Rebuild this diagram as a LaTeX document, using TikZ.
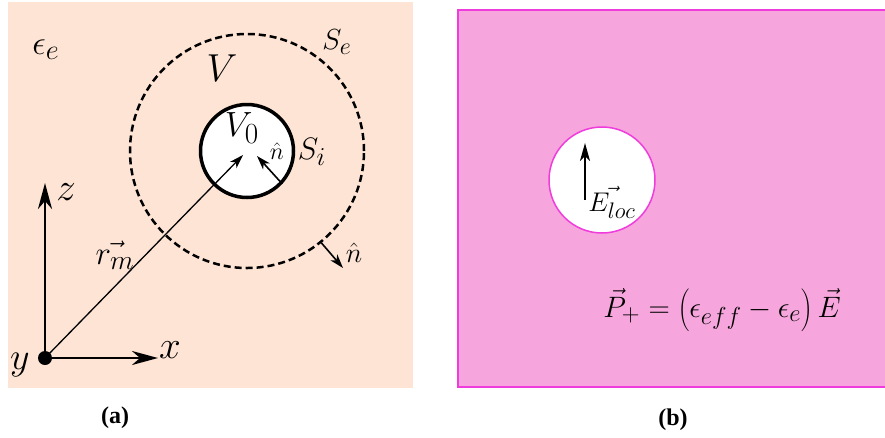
\documentclass[tikz,border=0pt]{standalone}
\usepackage[no-math]{fontspec}
\setmainfont{Liberation Serif}
\usetikzlibrary{arrows.meta}
\DeclareMathSizes{20.74}{20.74}{17.28}{14.4}
\definecolor{peach}{RGB}{253,228,212}
\definecolor{pinkfill}{RGB}{246,166,220}
\definecolor{magline}{RGB}{240,60,220}
\begin{document}
\begin{tikzpicture}[x=1pt,y=-1pt,
  lab/.style={inner sep=0pt, outer sep=0pt, font=\fontsize{20.74}{20.74}\selectfont, scale=#1/20.74},
  axisarrow/.style={line width=2.5pt, -{Stealth[length=26pt,width=14pt,inset=8pt]}},
  thinarrow/.style={line width=1.3pt, -{Stealth[length=14pt,width=9pt,inset=4pt]}},
  midarrow/.style={line width=1.6pt, -{Stealth[length=14pt,width=9pt,inset=4pt]}},
  earrow/.style={line width=2.2pt, -{Stealth[length=18pt,width=10pt,inset=5pt]}},
  caption/.style={inner sep=0pt, font=\fontsize{24}{24}\selectfont\bfseries}]
\useasboundingbox (0,0) rectangle (885,437);
% panel (a)
\fill[peach] (8,2) rectangle (413,388);
\node[circle, draw, line width=2.5pt, dash pattern=on 7pt off 4pt, minimum size=234pt, inner sep=0pt] (Se) at (247,151) {};
\node[circle, draw, line width=3.5pt, fill=white, minimum size=93pt, inner sep=0pt] (Vi) at (247,151) {};
\node[circle, fill=black, minimum size=14pt, inner sep=0pt] (O) at (45,358) {};
\coordinate (zend) at (45,183);
\coordinate (xend) at (158,358);
\coordinate (rtip) at (243,155);
\coordinate (ntip) at (257,156);
\coordinate (nout) at (343,268);
\draw[axisarrow] (O.center) -- (zend);
\draw[axisarrow] (O.center) -- (xend);
\draw[thinarrow] (O.center) -- (rtip);
\draw[midarrow] (Vi.-43) -- (ntip);
\draw[midarrow] (Se.-51) -- (nout);
\node[lab=34] (lee) at (46,50) {$\epsilon_e$};
\node[lab=39] (lV) at (222,68) {$V$};
\node[lab=29] (lSe) at (337,42) {$S_e$};
\node[lab=35] (lV0) at (242,128) {$V_0$};
\node[lab=24] (lni) at (277,151) {$\hat{n}$};
\node[lab=31] (lSi) at (312,152) {$S_i$};
\node[lab=33] (lr) at (115,255) {$\vec{r_m}$};
\node[lab=28] (lno) at (354,253) {$\hat{n}$};
\node[lab=39] (lz) at (66,192) {$z$};
\node[lab=39] (lx) at (170,350) {$x$};
\node[lab=38] (ly) at (20,365) {$y$};
\node[caption] (capa) at (115,418) {(a)};
% panel (b)
\draw[magline, line width=1.2pt, fill=pinkfill] (458,10) rectangle (886,387);
\node[circle, draw=magline, line width=1.5pt, fill=white, minimum size=106pt, inner sep=0pt] (Bc) at (602,180) {};
\coordinate (Ebot) at (585,200);
\coordinate (Etop) at (585,143);
\draw[earrow] (Ebot) -- (Etop);
\node[lab=27] (lE) at (612,202) {$\vec{E_{loc}}$};
\node[lab=29.5] (eq) at (722,310) {$\vec{P}_{+}=\left(\epsilon_{eff}-\epsilon_e\right)\vec{E}$};
\node[caption] (capb) at (673,420) {(b)};
\end{tikzpicture}
\end{document}
